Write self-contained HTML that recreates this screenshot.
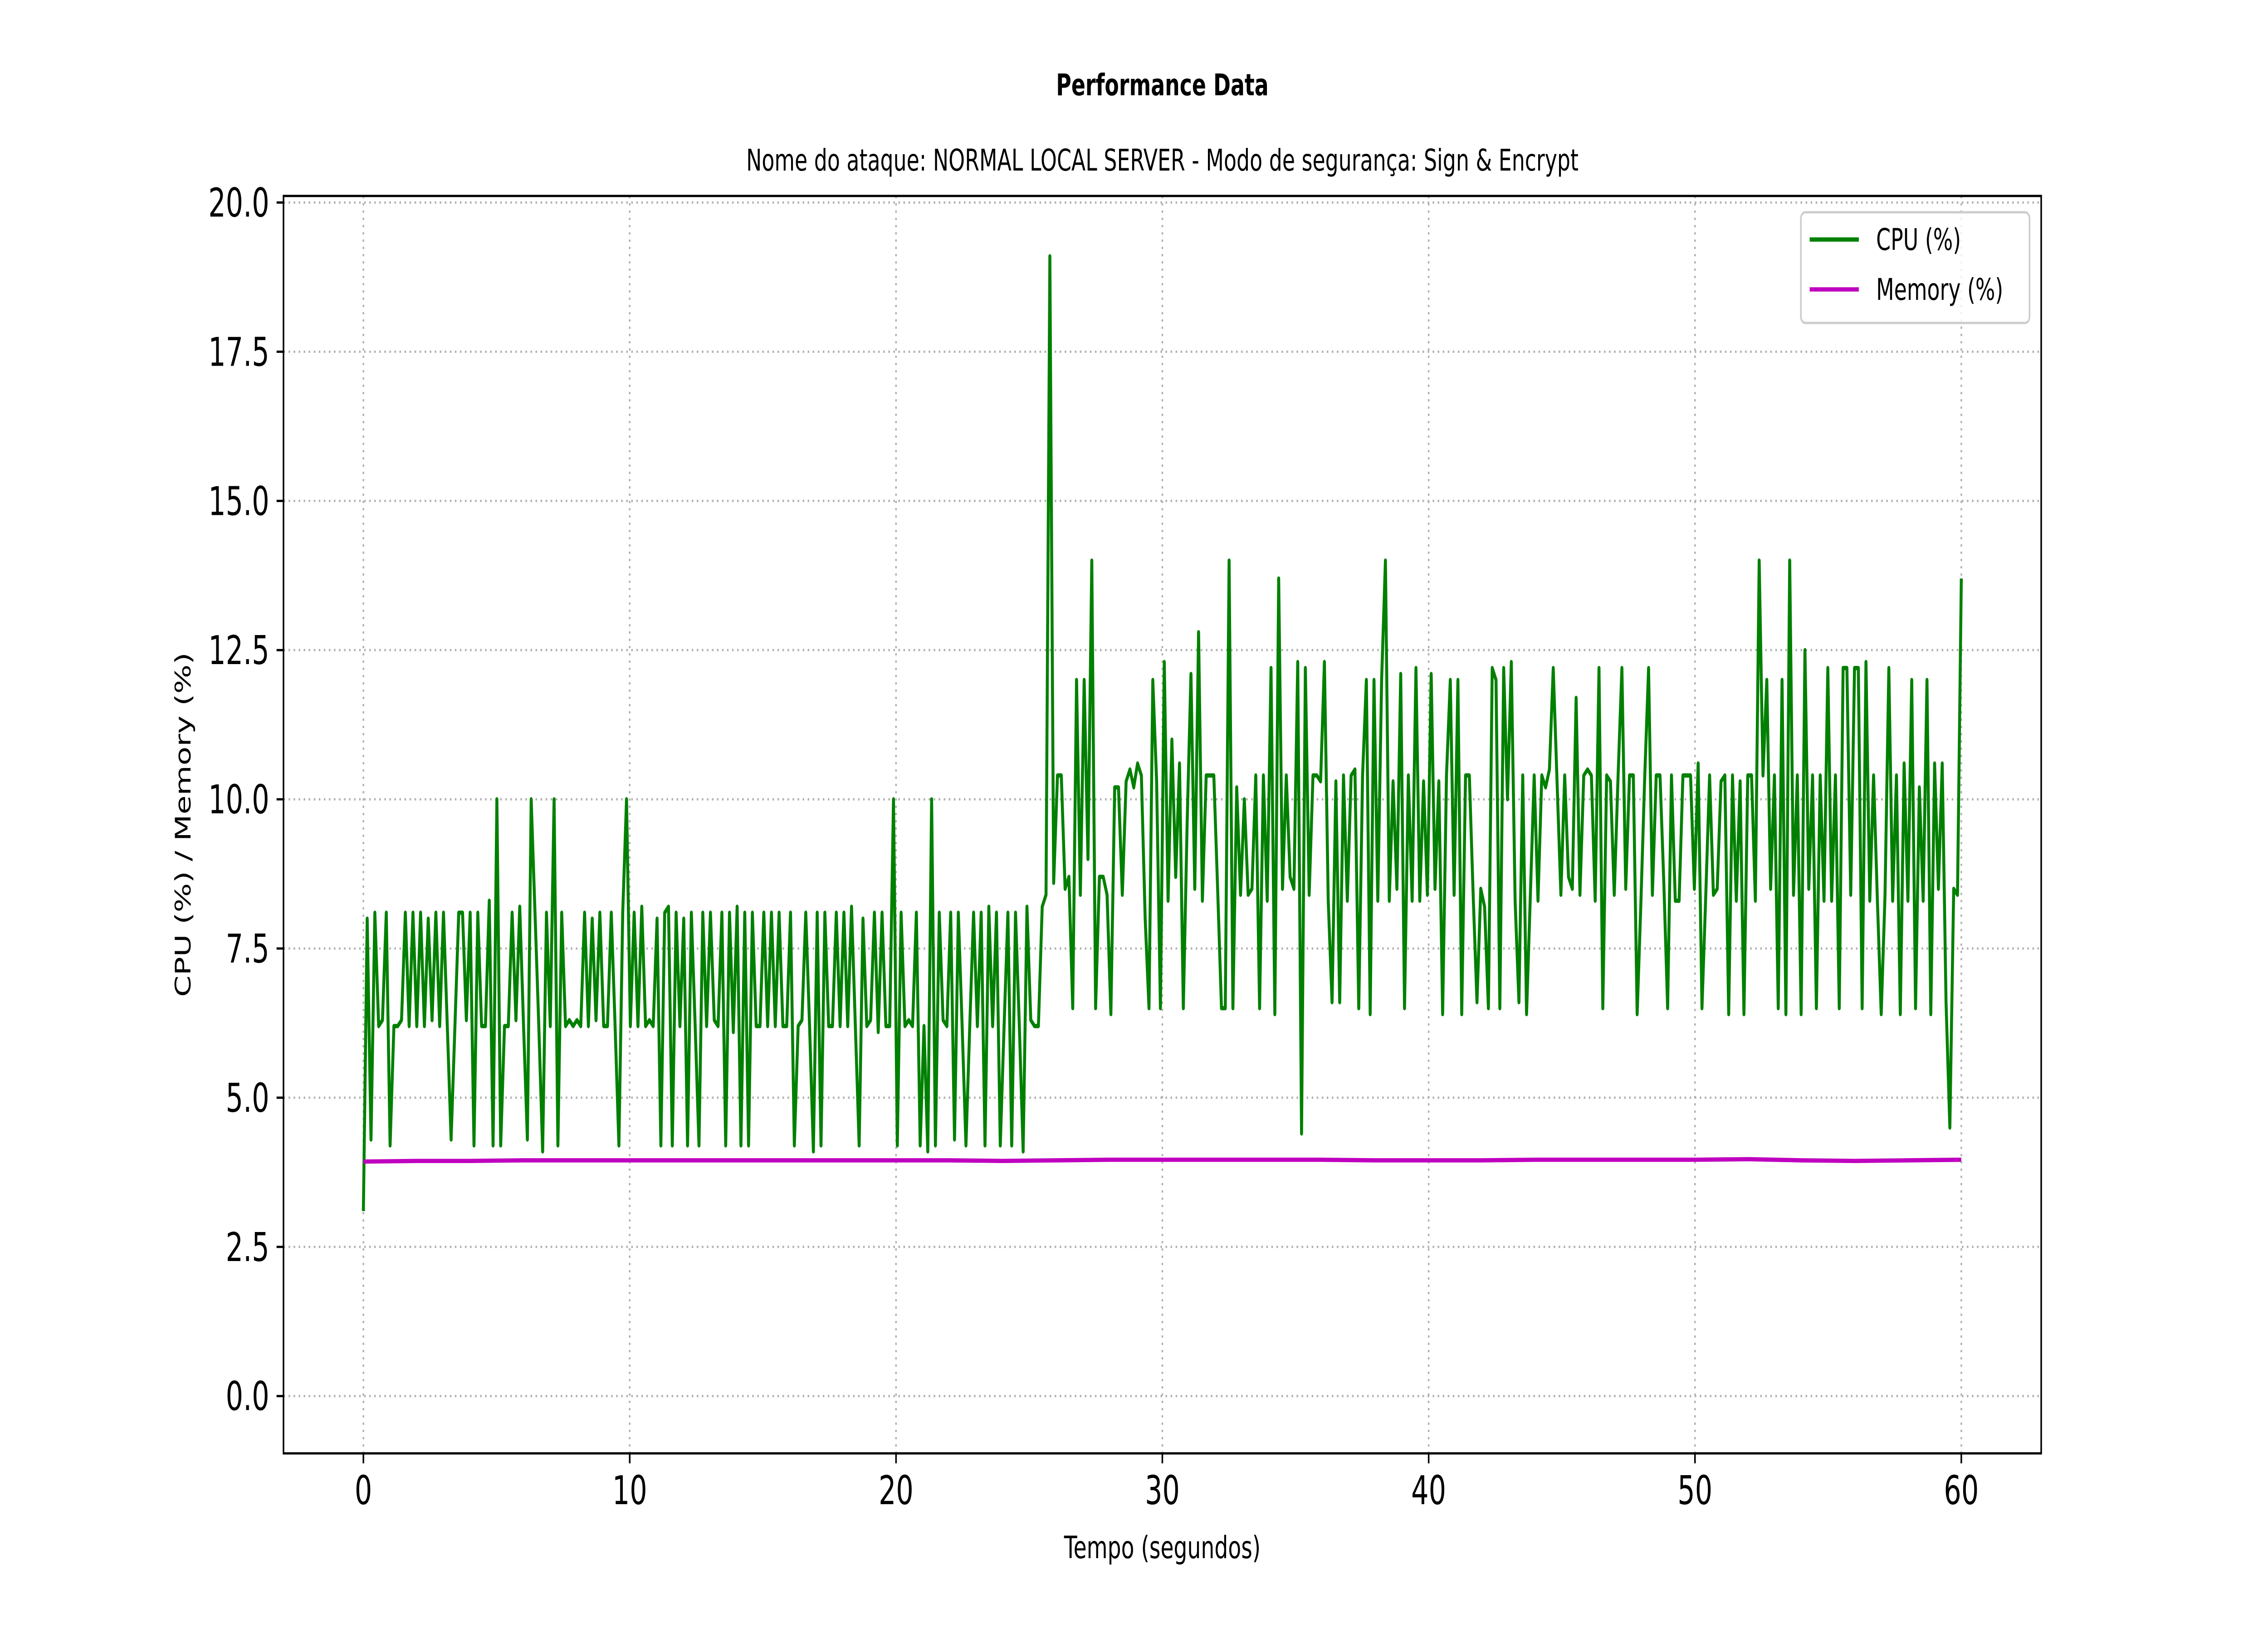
<!DOCTYPE html>
<html><head><meta charset="utf-8">
<style>
html,body{margin:0;padding:0;background:#fff;width:100%;height:100%;overflow:hidden;}
svg{display:block;width:100vw;height:100vh;font-family:"DejaVu Sans","Liberation Sans",sans-serif;}
</style></head>
<body>
<svg id="chart" viewBox="0 0 7200 3600" preserveAspectRatio="none" xmlns="http://www.w3.org/2000/svg">
<rect x="0" y="0" width="7200" height="3600" fill="#fff"/>
<text x="3690" y="210" font-size="66" font-weight="bold" text-anchor="middle">Performance Data</text>
<text x="3690" y="376" font-size="66" text-anchor="middle">Nome do ataque: NORMAL LOCAL SERVER - Modo de segurança: Sign &amp; Encrypt</text>
<g id="grid"></g>
<g id="series"></g>
<rect x="900" y="432" width="5580" height="2772" fill="none" stroke="#000" stroke-width="5"/>
<g id="ticks"></g>
<text x="3690" y="3435" font-size="68" text-anchor="middle">Tempo (segundos)</text>
<text x="605" y="1818" font-size="68" text-anchor="middle" transform="rotate(-90 605 1818)">CPU (%) / Memory (%)</text>
<g>
<rect x="5717" y="468" width="726" height="244" rx="14" fill="#fff" fill-opacity="0.8" stroke="#ccc" stroke-width="5"/>
<line x1="5745" y1="528" x2="5901" y2="528" stroke="#008000" stroke-width="9.4"/>
<text x="5956" y="551" font-size="66">CPU (%)</text>
<line x1="5745" y1="638" x2="5901" y2="638" stroke="#bf00bf" stroke-width="9.4"/>
<text x="5956" y="661" font-size="66">Memory (%)</text>
</g>
</svg>
<script>
const xTicks = [0, 10, 20, 30, 40, 50, 60];
const yTicks = [0, 2.5, 5, 7.5, 10, 12.5, 15, 17.5, 20];
const yTickLabels = ["0.0","2.5","5.0","7.5","10.0","12.5","15.0","17.5","20.0"];
const cpuLow = [3.1,8,4.3,8.1,6.2,6.3,8.1,4.2,6.2,6.2,
6.3,8.1,6.2,8.1,6.2,8.1,6.2,8,6.3,8.1,
6.2,8.1,6.2,4.3,6.2,8.1,8.1,6.3,8.1,4.2,
8.1,6.2,6.2,8.3,4.2,10,4.2,6.2,6.2,8.1,
6.3,8.2,6.2,4.3,10,8.1,6.2,4.1,8.1,6.2,
10,4.2,8.1,6.2,6.3,6.2,6.3,6.2,8.1,6.2,
8,6.3,8.1,6.2,6.2,8.1,6.2,4.2,8.1,10,
6.2,8.1,6.2,8.2,6.2,6.3,6.2,8,4.2,8.1,
8.2,4.2,8.1,6.2,8,4.2,8.1,6.2,4.2,8.1,
6.2,8.1,6.3,6.2,8.1,4.2,8.1,6.1,8.2,4.2,
8.1,4.2,8.1,6.2,6.2,8.1,6.2,8.1,6.2,8.1,
6.2,6.2,8.1,4.2,6.2,6.3,8.1,6.2,4.1,8.1,
4.2,8.1,6.2,6.2,8.1,6.2,8.1,6.2,8.2,6.2,
4.2,8,6.2,6.3,8.1,6.1,8.1,6.2,6.2,10,
4.2,8.1,6.2,6.3,6.2,8.1,4.2,6.2,4.1,10,
4.2,8.1,6.3,6.2,8.1,4.3,8.1,6.2,4.2,6.2,
8.1,6.2,8.1,4.2,8.2,6.2,8.1,4.2,6.2,8.1,
4.2,8.1,6.2,4.1,8.2,6.3,6.2,6.2];
const cpuHigh = [8.2,8.4,19.1,8.6,10.4,10.4,8.5,8.7,6.5,12,
8.4,12,9,14,6.5,8.7,8.7,8.4,6.4,10.2,
10.2,8.4,10.3,10.5,10.2,10.6,10.4,8,6.5,12,
10.3,6.5,12.3,8.3,11,8.7,10.6,6.5,9.6,12.1,
8.5,12.8,8.3,10.4,10.4,10.4,8.5,6.5,6.5,14,
6.5,10.2,8.4,10,8.4,8.5,10.4,6.5,10.4,8.3,
12.2,6.4,13.7,8.5,10.4,8.7,8.5,12.3,4.4,12.2,
8.4,10.4,10.4,10.3,12.3,8.3,6.6,10.3,6.6,10.4,
8.3,10.4,10.5,6.5,10.4,12,6.4,12,8.3,12,
14,8.3,10.3,8.5,12.1,6.5,10.4,8.3,12.2,8.3,
10.3,8.4,12.1,8.5,10.3,6.4,10.4,12,8.4,12,
6.4,10.4,10.4,8.4,6.6,8.5,8.2,6.5,12.2,12,
6.5,12.2,10,12.3,8.3,6.6,10.4,6.4,8.4,10.4,
8.3,10.4,10.2,10.5,12.2,10.3,8.4,10.4,8.7,8.5,
11.7,8.4,10.4,10.5,10.4,8.3,12.2,6.5,10.4,10.3,
8.4,10.4,12.2,8.5,10.4,10.4,6.4,8.3,10.4,12.2,
8.4,10.4,10.4,8.6,6.5,10.4,8.3,8.3,10.4,10.4,
10.4,8.5,10.6,6.5,8.4,10.4,8.4,8.5,10.3,10.4,
6.4,10.4,8.3,10.3,6.4,10.4,10.4,8.3,14,10.4,
12,8.5,10.4,6.5,12,6.4,14,8.4,10.4,6.4,
12.5,8.5,10.4,6.5,10.4,8.3,12.2,8.3,10.4,6.5,
12.2,12.2,8.4,12.2,12.2,6.5,12.3,8.3,10.4,8.3,
6.4,8.4,12.2,8.3,10.4,6.4,10.6,8.3,12,6.5,
10.2,8.3,12,6.4,10.6,8.5,10.6,6.6,4.5,8.5,
8.4,13.7];
const memValues = [3.93,3.94,3.94,3.95,3.95,3.95,3.95,3.95,3.95,3.95,3.95,3.95,3.94,3.95,3.96,3.96,3.96,3.96,3.96,3.95,3.95,3.95,3.96,3.96,3.96,3.96,3.97,3.95,3.94,3.95,3.96];
const xMin = -3, xMax = 63, yMin = -0.96, yMax = 20.11;
const L = 900, R = 6480, T = 432, B = 3204;
function sx(v){ return L + (v - xMin) / (xMax - xMin) * (R - L); }
function sy(v){ return B - (v - yMin) / (yMax - yMin) * (B - T); }
const NS = "http://www.w3.org/2000/svg";
const grid = document.getElementById('grid');
const ticks = document.getElementById('ticks');
const series = document.getElementById('series');
function mk(tag, attrs){ const e = document.createElementNS(NS, tag); for (const k in attrs) e.setAttribute(k, attrs[k]); return e; }
xTicks.forEach(function(t){
  const g = mk('line', {x1: sx(t), x2: sx(t), y1: T, y2: B, stroke: '#b0b0b0', 'stroke-width': 5, 'stroke-dasharray': '5 11'});
  
  
  grid.appendChild(g);
  const tk = mk('line', {x1: sx(t), x2: sx(t), y1: B, y2: B + 22, stroke: '#000', 'stroke-width': 5});
  
  
  ticks.appendChild(tk);
  const lb = mk('text', {x: sx(t), y: B + 112, 'font-size': 87, 'text-anchor': 'middle'});
  lb.textContent = String(t);
  
  
  ticks.appendChild(lb);
});
yTicks.forEach(function(t, i){
  const g = mk('line', {x1: L, x2: R, y1: sy(t), y2: sy(t), stroke: '#b0b0b0', 'stroke-width': 5, 'stroke-dasharray': '5 11'});
  
  
  grid.appendChild(g);
  const tk = mk('line', {x1: L - 22, x2: L, y1: sy(t), y2: sy(t), stroke: '#000', 'stroke-width': 5});
  
  
  ticks.appendChild(tk);
  const lb = mk('text', {x: L - 45, y: sy(t) + 31, 'font-size': 87, 'text-anchor': 'end'});
  lb.textContent = yTickLabels[i];
  
  
  ticks.appendChild(lb);
});
const cpu = cpuLow.concat(cpuHigh);
function pathFor(vals){
  const n = vals.length;
  return vals.map(function(v, i){ return (i ? 'L' : 'M') + sx(i * 60 / (n - 1)).toFixed(1) + ' ' + sy(v).toFixed(1); }).join(' ');
}
const cpuLine = mk('path', {d: pathFor(cpu), fill: 'none', stroke: '#008000', 'stroke-width': 9.4, 'stroke-linejoin': 'round'});


series.appendChild(cpuLine);
const memLine = mk('path', {d: pathFor(memValues), fill: 'none', stroke: '#bf00bf', 'stroke-width': 9.4, 'stroke-linejoin': 'round'});


series.appendChild(memLine);
</script>
</body></html>
